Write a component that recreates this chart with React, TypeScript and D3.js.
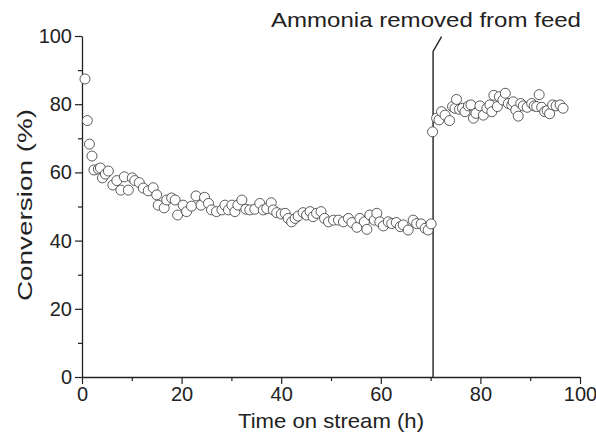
import React, { useEffect, useRef } from "react";
import * as d3 from "d3";

// time on stream (h)
const hours = [
  0.6, 1.06, 1.5, 2.0, 2.4, 3.3, 3.7, 4.1, 4.7, 5.3, 6.2, 7.0, 7.8, 8.5, 9.3, 10.1, 10.6, 11.5, 12.3, 13.3,
  14.3, 15.0, 15.3, 16.5, 17.0, 18.0, 18.7, 19.2, 20.3, 21.0, 22.0, 22.9, 23.9, 24.6, 25.4, 26.0, 27.0, 28.1,
  28.7, 29.4, 30.1, 30.7, 31.3, 32.1, 32.9, 33.7, 34.7, 35.7, 36.4, 37.1, 38.0, 38.4, 39.1, 40.0, 40.8, 41.4,
  42.1, 42.8, 43.4, 44.4, 45.1, 45.8, 46.4, 47.1, 48.0, 48.7, 49.5, 50.5, 51.5, 52.5, 53.5, 54.2, 55.2, 55.8,
  56.7, 57.2, 57.8, 58.7, 59.2, 59.8, 60.5, 61.5, 62.2, 63.1, 63.9, 64.5, 65.5, 66.5, 67.2, 68.1, 68.9, 69.5,
  70.1,
  70.4, 71.2, 71.7, 72.2, 72.9, 73.8, 74.4, 74.9, 75.2, 75.8, 76.4, 76.9, 77.6, 78.1, 78.6, 79.1, 79.9, 80.6,
  81.3, 81.9, 82.3, 82.7, 83.4, 83.8, 84.5, 85.0, 85.6, 86.3, 86.6, 87.1, 87.6, 88.1, 88.6, 89.4, 90.3, 90.8,
  91.3, 91.8, 92.3, 92.9, 93.4, 93.9, 94.5, 95.2, 96.0, 96.6,
];

// conversion (%)
const conversion = [
  87.4, 75.2, 68.3, 64.8, 60.7, 61.0, 61.3, 58.4, 59.5, 60.4, 56.3, 57.6, 54.8, 58.7, 54.8, 58.4, 57.6, 57.0, 55.4, 54.6,
  55.5, 53.4, 50.4, 49.6, 51.9, 52.5, 51.9, 47.5, 50.4, 48.5, 50.1, 53.1, 50.4, 52.7, 50.9, 49.0, 48.5, 49.0,
  50.4, 49.0, 50.4, 48.5, 50.4, 51.9, 49.2, 49.0, 49.2, 50.9, 49.0, 49.4, 51.1, 49.0, 48.2, 47.8, 48.0, 46.5,
  45.5, 46.5, 47.2, 48.2, 47.5, 48.5, 47.0, 48.0, 48.5, 46.5, 45.5, 46.0, 46.0, 45.5, 46.5, 45.3, 43.9, 46.5,
  45.5, 43.3, 47.5, 46.0, 48.0, 45.5, 44.3, 45.5, 45.0, 45.3, 44.1, 44.6, 43.1, 46.0, 45.0, 44.9, 43.6, 43.1,
  44.9,
  71.9, 75.9, 75.4, 77.8, 76.8, 75.2, 79.3, 78.8, 81.4, 78.5, 78.8, 77.8, 79.5, 79.8, 75.9, 77.3, 79.5, 76.8,
  78.8, 79.8, 77.8, 82.6, 79.3, 82.2, 81.2, 83.2, 80.2, 79.8, 80.7, 78.3, 76.5, 80.2, 79.5, 79.1, 80.2, 79.5,
  79.3, 82.8, 79.1, 77.8, 78.1, 77.2, 79.8, 79.5, 79.8, 78.8,
];

const majorTicks = [0, 20, 40, 60, 80, 100];
const minorTicks = [10, 30, 50, 70, 90];
const switchTime = 70.5;
const annotation = "Ammonia removed from feed";

const W = 596;
const H = 435;
const FONT = "'Liberation Sans', Arial, sans-serif";

export default function App() {
  const ref = useRef<SVGSVGElement>(null);

  useEffect(() => {
    document.body.style.margin = "0";
    const svg = d3.select(ref.current);
    svg.selectAll("*").remove();

    const x = d3.scaleLinear().domain([0, 100]).range([82, 580]);
    const y = d3.scaleLinear().domain([0, 100]).range([377, 36]);

    // axes
    const xAxis = svg.append("g").attr("transform", `translate(0,${y(0)})`);
    xAxis.call(d3.axisBottom(x).tickValues(majorTicks).tickSize(7).tickSizeOuter(0).tickPadding(3));
    xAxis.append("g").call(d3.axisBottom(x).tickValues(minorTicks).tickSize(4).tickFormat(() => ""))
      .select(".domain").remove();

    const yAxis = svg.append("g").attr("transform", `translate(${x(0)},0)`);
    yAxis.call(d3.axisLeft(y).tickValues(majorTicks).tickSize(7).tickSizeOuter(0).tickPadding(3));
    yAxis.append("g").call(d3.axisLeft(y).tickValues(minorTicks).tickSize(4).tickFormat(() => ""))
      .select(".domain").remove();

    svg.selectAll(".domain").attr("stroke", "#222").attr("stroke-width", 1.3);
    svg.selectAll(".tick line").attr("stroke", "#222").attr("stroke-width", 1.2);
    svg.selectAll(".tick text")
      .attr("font-family", FONT)
      .attr("font-size", 20)
      .attr("fill", "#222");

    // the switch marker
    svg.append("path")
      .attr("d", `M${x(switchTime)},${y(0)}V${y(95.5)}L${x(72.2)},${y(99.8)}`)
      .attr("fill", "none")
      .attr("stroke", "#222")
      .attr("stroke-width", 1.4);

    // points
    svg.append("g")
      .selectAll("circle")
      .data(hours)
      .join("circle")
      .attr("cx", d => x(d))
      .attr("cy", (d, i) => y(conversion[i]))
      .attr("r", 5)
      .attr("fill", "#fff")
      .attr("stroke", "#333")
      .attr("stroke-width", 0.8);

    // labels (reference glyphs are a little wider than Arial, so stretch to its widths)
    const label = (txt: string, len: number) =>
      svg.append("text")
        .attr("text-anchor", "middle")
        .attr("font-family", FONT)
        .attr("font-size", 21)
        .attr("fill", "#222")
        .attr("textLength", len)
        .attr("lengthAdjust", "spacingAndGlyphs")
        .text(txt);

    label(annotation, 310).attr("x", 426).attr("y", 27);
    label("Time on stream (h)", 186).attr("x", 331).attr("y", 428);
    label("Conversion (%)", 192).attr("transform", `translate(32,205) rotate(-90)`);
  }, []);

  return <svg ref={ref} width={W} height={H} style={{ display: "block", background: "#fff" }} />;
}
